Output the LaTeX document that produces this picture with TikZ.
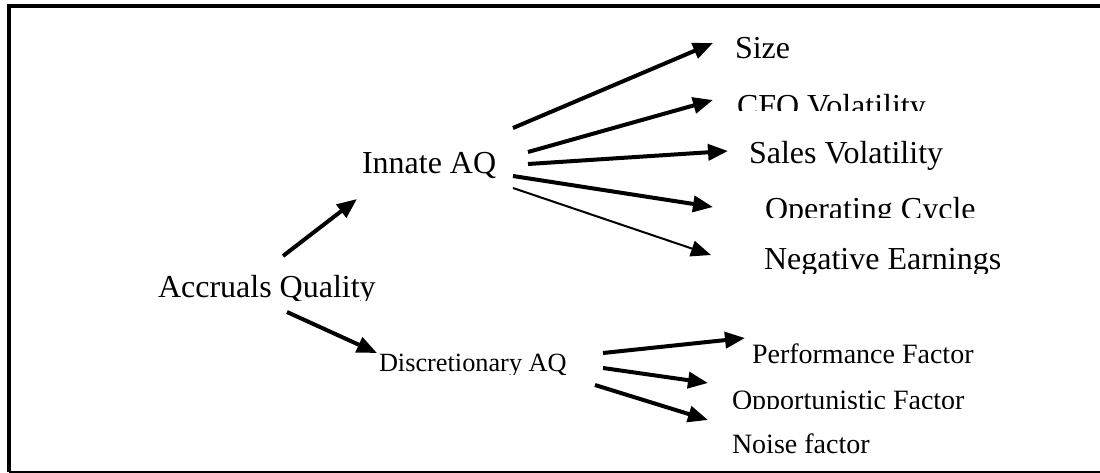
\documentclass[tikz,border=0pt]{standalone}
\usepackage{fontspec}
\setmainfont{Liberation Serif}
\usetikzlibrary{arrows.meta}
\begin{document}
\begin{tikzpicture}[x=1pt,y=-1pt,
  lbl/.style={inner sep=0pt, outer sep=0pt, anchor=base west},
  big/.style={lbl, font=\fontsize{32}{38}\selectfont},
  mid/.style={lbl, font=\fontsize{28}{34}\selectfont},
  small/.style={lbl, font=\fontsize{26.3}{32}\selectfont},
  arr/.style={line width=4pt, -{Triangle[length=20pt,width=16pt]}},
  thinarr/.style={line width=2pt, -{Triangle[length=20pt,width=16pt]}},
  framestyle/.style={line width=4.2pt, line join=miter}]
\useasboundingbox (0,0) rectangle (1100,472);
% frame
\draw[framestyle] (8.8,472) -- (8.8,6.2) -- (1100,6.2);
\draw[line width=2pt] (8.8,472) -- (1100,472);

% labels
\begin{scope}\clip (140,250) rectangle (400,300);
  \node[big] (aq) at (158,297) {Accruals Quality};
\end{scope}
\node[big] (innate) at (362,173) {Innate AQ};
\begin{scope}\clip (360,330) rectangle (600,374);
  \node[small] (disc) at (379,371) {Discretionary AQ};
\end{scope}

\node[big] (size) at (735,58) {Size};
\begin{scope}\clip (720,80) rectangle (1000,110);
  \node[big] (cfo) at (737,116) {CFO Volatility};
\end{scope}
\node[big] (sales) at (749,163) {Sales Volatility};
\begin{scope}\clip (740,180) rectangle (1000,217.5);
  \node[big] (opcycle) at (765,219) {Operating Cycle};
\end{scope}
\begin{scope}\clip (740,230) rectangle (1040,273);
  \node[big] (negearn) at (764,269) {Negative Earnings};
\end{scope}

\node[mid] (perf) at (752,363) {Performance Factor};
\begin{scope}\clip (720,380) rectangle (1000,408.5);
  \node[mid] (opp) at (732,409) {Opportunistic Factor};
\end{scope}
\begin{scope}\clip (720,420) rectangle (1000,454.5);
  \node[mid] (noise) at (732,453) {Noise factor};
\end{scope}

% connector end points
\coordinate (aq-up) at (283,256);
\coordinate (aq-down) at (287,312);
\coordinate (innate-in) at (357,199);
\coordinate (disc-in) at (377,353);
\coordinate (innate-o1) at (513,128);
\coordinate (innate-o2) at (528,152);
\coordinate (innate-o3) at (528,164);
\coordinate (innate-o4) at (513,176);
\coordinate (innate-o5) at (513,188);
\coordinate (size-in) at (713,43);
\coordinate (cfo-in) at (713,100);
\coordinate (sales-in) at (728,151);
\coordinate (opcycle-in) at (713,207);
\coordinate (negearn-in) at (711,255);
\coordinate (disc-o1) at (603,353);
\coordinate (disc-o2) at (603,368);
\coordinate (disc-o3) at (595,385);
\coordinate (perf-in) at (745,338);
\coordinate (opp-in) at (708,383);
\coordinate (noise-in) at (708,420);

% connectors
\draw[arr] (aq-up) -- (innate-in);
\draw[arr] (aq-down) -- (disc-in);
\draw[arr] (innate-o1) -- (size-in);
\draw[arr] (innate-o2) -- (cfo-in);
\draw[arr] (innate-o3) -- (sales-in);
\draw[arr] (innate-o4) -- (opcycle-in);
\draw[thinarr] (innate-o5) -- (negearn-in);
\draw[arr] (disc-o1) -- (perf-in);
\draw[arr] (disc-o2) -- (opp-in);
\draw[arr] (disc-o3) -- (noise-in);
\end{tikzpicture}
\end{document}
